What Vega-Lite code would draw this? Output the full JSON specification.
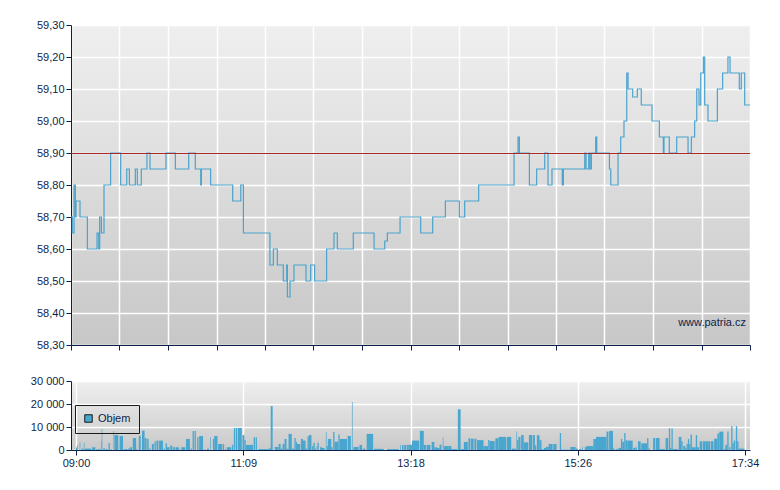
{
  "$schema": "https://vega.github.io/schema/vega-lite/v6.json",
  "background": "white",
  "padding": {"left": 30, "top": 19, "right": 10, "bottom": 5},
  "spacing": 36,
  "bounds": "flush",
  "config": {
    "font": "Liberation Sans",
    "view": {"stroke": null},
    "axis": {
      "labelFont": "Liberation Sans",
      "labelFontSize": 11,
      "labelColor": "#0d1f4b",
      "labelOverlap": false,
      "labelFlush": false,
      "domainColor": "#0d1f4b",
      "domainWidth": 1,
      "tickColor": "#0d1f4b",
      "tickSize": 5,
      "labelPadding": 2,
      "gridColor": "#ffffff",
      "gridWidth": 1.5,
      "gridOpacity": 1,
      "title": null
    }
  },
  "datasets": {
    "price": [
      {"t":0,"p":58.70},{"t":1,"p":58.65},{"t":2.3,"p":58.80},{"t":3.3,"p":58.70},{"t":3.8,"p":58.75},{"t":6.8,"p":58.70},{"t":12.4,"p":58.60},{"t":19.7,"p":58.65},{"t":21,"p":58.60},{"t":21.7,"p":58.70},{"t":23,"p":58.65},{"t":25,"p":58.80},{"t":30,"p":58.90},{"t":37.6,"p":58.80},{"t":42.2,"p":58.85},{"t":44.2,"p":58.80},{"t":48.7,"p":58.85},{"t":50.2,"p":58.80},{"t":53.2,"p":58.85},{"t":57.5,"p":58.90},{"t":59.8,"p":58.85},{"t":71.9,"p":58.90},{"t":79,"p":58.85},{"t":89.1,"p":58.90},{"t":94.1,"p":58.85},{"t":98.2,"p":58.80},{"t":98.7,"p":58.85},{"t":105.7,"p":58.80},{"t":122.4,"p":58.75},{"t":128.5,"p":58.80},{"t":130.5,"p":58.65},{"t":150.6,"p":58.55},{"t":153.2,"p":58.60},{"t":156.2,"p":58.55},{"t":160.7,"p":58.50},{"t":163.3,"p":58.55},{"t":163.8,"p":58.45},{"t":165.8,"p":58.50},{"t":168.8,"p":58.55},{"t":177.9,"p":58.50},{"t":181.4,"p":58.55},{"t":184.4,"p":58.50},{"t":193.5,"p":58.60},{"t":199.1,"p":58.65},{"t":201.6,"p":58.60},{"t":213.7,"p":58.65},{"t":229.4,"p":58.60},{"t":237.5,"p":58.625},{"t":239.5,"p":58.65},{"t":249.1,"p":58.70},{"t":264.7,"p":58.65},{"t":273.8,"p":58.70},{"t":283.4,"p":58.75},{"t":294,"p":58.70},{"t":298,"p":58.75},{"t":308.6,"p":58.80},{"t":335.4,"p":58.90},{"t":338.4,"p":58.95},{"t":339.4,"p":58.90},{"t":347,"p":58.80},{"t":352.5,"p":58.85},{"t":358.6,"p":58.90},{"t":361.1,"p":58.80},{"t":364.1,"p":58.85},{"t":371.9,"p":58.80},{"t":372.7,"p":58.85},{"t":388.9,"p":58.90},{"t":389.9,"p":58.85},{"t":391.9,"p":58.90},{"t":392.9,"p":58.85},{"t":393.9,"p":58.90},{"t":397.2,"p":58.95},{"t":398,"p":58.90},{"t":407.6,"p":58.85},{"t":408.6,"p":58.80},{"t":414.1,"p":58.90},{"t":416.1,"p":58.95},{"t":418.6,"p":59.00},{"t":420.7,"p":59.15},{"t":421.7,"p":59.10},{"t":425.2,"p":59.075},{"t":428.7,"p":59.10},{"t":431.7,"p":59.05},{"t":439.8,"p":59.00},{"t":445.4,"p":58.95},{"t":448.4,"p":58.90},{"t":448.9,"p":58.95},{"t":452.9,"p":58.90},{"t":458.5,"p":58.95},{"t":467.1,"p":58.90},{"t":469.6,"p":58.95},{"t":472.1,"p":59.00},{"t":473.7,"p":59.10},{"t":475.4,"p":59.05},{"t":476.7,"p":59.15},{"t":478.7,"p":59.20},{"t":479.7,"p":59.05},{"t":482.2,"p":59.00},{"t":489.3,"p":59.10},{"t":493.3,"p":59.15},{"t":497.3,"p":59.20},{"t":498.9,"p":59.15},{"t":505.9,"p":59.10},{"t":507.4,"p":59.15},{"t":510,"p":59.05},{"t":514,"p":59.05}
    ],
    "vol": [
      {"t":0.0,"t2":0.8,"v":1100},{"t":1.0,"t2":1.5,"v":2200},{"t":2.8,"t2":3.3,"v":3500},{"t":4.3,"t2":5.8,"v":600},{"t":6.0,"t2":6.5,"v":3200},{"t":6.8,"t2":11.8,"v":600},{"t":12.4,"t2":14.9,"v":1200},{"t":15.4,"t2":19.2,"v":300},{"t":19.2,"t2":19.7,"v":3900},{"t":19.7,"t2":20.2,"v":9100},{"t":20.9,"t2":22.4,"v":700},{"t":22.9,"t2":24.5,"v":400},{"t":25.0,"t2":26.0,"v":3000},{"t":26.5,"t2":27.5,"v":300},{"t":28.8,"t2":29.3,"v":8300},{"t":29.5,"t2":32.5,"v":6500},{"t":33.5,"t2":36.1,"v":6100},{"t":36.6,"t2":39.6,"v":400},{"t":40.1,"t2":41.6,"v":600},{"t":41.6,"t2":43.1,"v":1200},{"t":43.6,"t2":46.2,"v":5200},{"t":46.4,"t2":47.2,"v":400},{"t":48.2,"t2":49.7,"v":6200},{"t":50.7,"t2":52.7,"v":8400},{"t":52.7,"t2":54.2,"v":5200},{"t":54.7,"t2":55.8,"v":4900},{"t":56.3,"t2":57.3,"v":600},{"t":58.3,"t2":59.8,"v":2600},{"t":60.3,"t2":61.3,"v":3800},{"t":61.8,"t2":63.3,"v":4100},{"t":63.8,"t2":66.8,"v":4100},{"t":67.4,"t2":68.4,"v":600},{"t":68.9,"t2":69.9,"v":2900},{"t":69.9,"t2":71.9,"v":1200},{"t":72.4,"t2":73.9,"v":1900},{"t":74.4,"t2":75.9,"v":1200},{"t":76.4,"t2":78.9,"v":1200},{"t":79.5,"t2":80.0,"v":600},{"t":81.0,"t2":84.0,"v":1200},{"t":84.5,"t2":87.5,"v":4800},{"t":88.0,"t2":89.0,"v":600},{"t":89.6,"t2":90.6,"v":8300},{"t":91.1,"t2":92.1,"v":8300},{"t":93.1,"t2":94.1,"v":5500},{"t":94.6,"t2":97.6,"v":6100},{"t":98.6,"t2":99.6,"v":300},{"t":100.7,"t2":102.2,"v":600},{"t":103.2,"t2":103.7,"v":5500},{"t":105.2,"t2":106.2,"v":4800},{"t":106.2,"t2":108.7,"v":6100},{"t":109.2,"t2":112.3,"v":2600},{"t":112.8,"t2":113.8,"v":2500},{"t":114.3,"t2":115.3,"v":300},{"t":115.8,"t2":119.3,"v":1200},{"t":119.8,"t2":120.8,"v":2300},{"t":121.3,"t2":122.4,"v":9600},{"t":122.9,"t2":123.9,"v":9600},{"t":124.4,"t2":127.4,"v":9600},{"t":127.9,"t2":129.4,"v":6500},{"t":129.4,"t2":130.4,"v":4300},{"t":130.4,"t2":136.0,"v":2200},{"t":136.5,"t2":137.5,"v":5500},{"t":138.0,"t2":139.0,"v":5500},{"t":140.0,"t2":142.1,"v":400},
      {"t":142.1,"t2":148.6,"v":400},{"t":148.6,"t2":149.6,"v":900},{"t":149.6,"t2":151.1,"v":19100},{"t":152.7,"t2":155.7,"v":1300},{"t":155.7,"t2":157.2,"v":2600},{"t":157.2,"t2":158.7,"v":600},{"t":158.7,"t2":160.2,"v":2600},{"t":160.2,"t2":161.7,"v":4800},{"t":161.7,"t2":163.3,"v":600},{"t":163.3,"t2":165.8,"v":7000},{"t":165.8,"t2":167.8,"v":600},{"t":167.8,"t2":168.8,"v":5200},{"t":168.8,"t2":169.8,"v":3500},{"t":169.8,"t2":172.3,"v":2600},{"t":172.8,"t2":174.4,"v":4800},{"t":174.4,"t2":176.4,"v":4100},{"t":176.4,"t2":177.9,"v":600},{"t":177.9,"t2":178.9,"v":5900},{"t":178.9,"t2":180.9,"v":6500},{"t":181.4,"t2":182.4,"v":1700},{"t":182.4,"t2":183.4,"v":3200},{"t":183.4,"t2":184.4,"v":600},{"t":184.9,"t2":185.5,"v":1700},{"t":185.5,"t2":186.5,"v":3200},{"t":187.5,"t2":189.0,"v":1200},{"t":189.0,"t2":191.0,"v":900},{"t":192.0,"t2":192.5,"v":7800},{"t":192.5,"t2":193.5,"v":1700},{"t":193.5,"t2":196.1,"v":4800},{"t":196.1,"t2":197.1,"v":1200},{"t":197.6,"t2":198.6,"v":7800},{"t":198.6,"t2":201.6,"v":3600},{"t":201.6,"t2":202.6,"v":6700},{"t":202.6,"t2":203.6,"v":4800},{"t":203.6,"t2":208.2,"v":4800},{"t":208.7,"t2":211.2,"v":6100},{"t":212.0,"t2":212.5,"v":20900},{"t":213.2,"t2":217.2,"v":1300},{"t":217.8,"t2":219.8,"v":2200},{"t":220.3,"t2":222.3,"v":600},{"t":223.3,"t2":228.3,"v":7000},{"t":228.9,"t2":236.4,"v":500},{"t":239.0,"t2":248.0,"v":400},{"t":249.0,"t2":249.5,"v":2200},{"t":250.5,"t2":251.6,"v":2200},{"t":252.1,"t2":253.6,"v":2200},{"t":254.1,"t2":255.6,"v":2200},{"t":255.6,"t2":258.1,"v":2300},{"t":258.1,"t2":263.7,"v":4100},{"t":264.2,"t2":267.2,"v":8300},{"t":267.2,"t2":269.2,"v":2200},{"t":269.7,"t2":272.3,"v":2200},{"t":273.3,"t2":275.3,"v":3500},{"t":275.3,"t2":277.3,"v":1200},{"t":277.3,"t2":279.3,"v":900},{"t":279.3,"t2":280.8,"v":2300},{"t":281.8,"t2":282.3,"v":5400},{"t":282.3,"t2":283.3,"v":1700},{"t":283.3,"t2":285.9,"v":1700},{"t":285.9,"t2":288.4,"v":1700},{"t":288.4,"t2":292.9,"v":400},{"t":293.4,"t2":295.5,"v":17700},{"t":295.5,"t2":298.0,"v":400},{"t":298.0,"t2":301.0,"v":3500},{"t":301.5,"t2":303.0,"v":5100},{"t":303.5,"t2":305.5,"v":4900},{"t":306.1,"t2":307.6,"v":4900},{"t":308.1,"t2":313.1,"v":4300},{"t":313.1,"t2":316.7,"v":1700},{"t":316.7,"t2":317.7,"v":4300},{"t":317.7,"t2":321.7,"v":3900},{"t":322.2,"t2":324.7,"v":5100},{"t":324.7,"t2":330.4,"v":5700},
      {"t":330.9,"t2":334.4,"v":5700},{"t":334.9,"t2":337.9,"v":600},{"t":338.4,"t2":338.9,"v":8000},{"t":338.9,"t2":339.9,"v":4300},{"t":339.9,"t2":341.5,"v":5700},{"t":342.0,"t2":344.0,"v":6500},{"t":344.0,"t2":347.5,"v":3300},{"t":348.0,"t2":350.5,"v":6500},{"t":351.0,"t2":352.6,"v":6500},{"t":352.6,"t2":353.6,"v":2000},{"t":354.1,"t2":356.1,"v":6400},{"t":356.1,"t2":357.6,"v":4300},{"t":357.6,"t2":359.1,"v":400},{"t":359.6,"t2":361.1,"v":900},{"t":361.1,"t2":363.2,"v":1400},{"t":363.2,"t2":366.2,"v":2600},{"t":366.7,"t2":369.2,"v":2600},{"t":371.7,"t2":372.7,"v":7400},{"t":372.7,"t2":379.8,"v":150},{"t":379.8,"t2":383.8,"v":1300},{"t":383.8,"t2":385.4,"v":600},{"t":386.4,"t2":388.4,"v":400},{"t":388.9,"t2":389.4,"v":1200},{"t":390.9,"t2":391.9,"v":1200},{"t":391.9,"t2":397.5,"v":1700},{"t":397.5,"t2":399.5,"v":4800},{"t":399.5,"t2":407.6,"v":5700},{"t":407.6,"t2":409.1,"v":8000},{"t":409.6,"t2":412.6,"v":8300},{"t":412.6,"t2":413.6,"v":600},{"t":414.6,"t2":416.1,"v":400},{"t":416.6,"t2":418.7,"v":900},{"t":418.7,"t2":419.7,"v":4800},{"t":419.7,"t2":421.2,"v":3500},{"t":421.2,"t2":422.2,"v":7400},{"t":422.2,"t2":423.7,"v":4200},{"t":423.7,"t2":427.7,"v":4100},{"t":428.2,"t2":429.8,"v":900},{"t":429.8,"t2":430.8,"v":1200},{"t":431.8,"t2":433.8,"v":3800},{"t":433.8,"t2":434.3,"v":900},{"t":434.3,"t2":438.8,"v":2900},{"t":438.8,"t2":439.8,"v":5200},{"t":439.8,"t2":440.9,"v":600},{"t":443.4,"t2":444.9,"v":5200},{"t":445.4,"t2":448.4,"v":5200},{"t":448.4,"t2":452.5,"v":400},{"t":453.0,"t2":455.0,"v":5200},{"t":455.5,"t2":456.5,"v":9400},{"t":456.5,"t2":457.5,"v":900},{"t":457.5,"t2":458.5,"v":9400},{"t":458.5,"t2":462.6,"v":400},{"t":463.1,"t2":465.1,"v":5700},{"t":465.1,"t2":466.1,"v":3800},{"t":466.6,"t2":468.1,"v":1700},{"t":468.1,"t2":469.1,"v":900},{"t":469.1,"t2":470.1,"v":2600},{"t":470.1,"t2":471.1,"v":4800},{"t":471.1,"t2":472.1,"v":2600},{"t":472.1,"t2":473.2,"v":6700},{"t":473.2,"t2":476.2,"v":1200},{"t":476.2,"t2":477.2,"v":6500},{"t":477.2,"t2":478.7,"v":1200},{"t":479.2,"t2":481.2,"v":3800},{"t":481.7,"t2":483.7,"v":3800},{"t":483.7,"t2":486.2,"v":3800},{"t":486.2,"t2":487.2,"v":3800},{"t":487.7,"t2":489.8,"v":3800},{"t":490.3,"t2":492.8,"v":4900},{"t":492.8,"t2":494.3,"v":7200},{"t":494.3,"t2":497.4,"v":8000},{"t":497.9,"t2":498.9,"v":400},{"t":498.9,"t2":500.4,"v":2200},{"t":500.4,"t2":501.4,"v":8000},{"t":501.9,"t2":502.9,"v":1200},{"t":503.4,"t2":504.4,"v":10300},{"t":504.4,"t2":505.4,"v":2900},{"t":505.4,"t2":506.5,"v":4100},{"t":507.0,"t2":508.0,"v":10300},{"t":508.0,"t2":509.0,"v":3800},{"t":509.0,"t2":513.5,"v":600}
    ]
  },
  "vconcat": [
    {
      "width": 679,
      "height": 320,
      "view": {"stroke": null, "fill": {"gradient": "linear", "x1": 0, "y1": 0, "x2": 0, "y2": 1, "stops": [{"offset": 0, "color": "#efefef"}, {"offset": 1, "color": "#c7c7c7"}]}},
      "layer": [
        {
          "data": {"name": "price"},
          "mark": {"type": "line", "interpolate": "step-after", "color": "#4ba3cc", "strokeWidth": 1.2},
          "encoding": {
            "x": {"field": "t", "type": "quantitative",
                  "scale": {"domain": [0, 514], "nice": false, "zero": false},
                  "axis": {"values": [0, 36.714, 73.429, 110.143, 146.857, 183.571, 220.286, 257, 293.714, 330.429, 367.143, 403.857, 440.571, 477.286, 514], "tickCount": 40, "labels": false, "grid": true}},
            "y": {"field": "p", "type": "quantitative",
                  "scale": {"domain": [58.3, 59.3], "nice": false, "zero": false},
                  "axis": {"values": [58.3, 58.4, 58.5, 58.6, 58.7, 58.8, 58.9, 59.0, 59.1, 59.2, 59.3], "tickCount": 40, "labelOverlap": false, "labelFlush": false, "labelExpr": "replace(format(datum.value, '.2f'), '.', ',')", "grid": true}}
          }
        },
        {
          "data": {"values": [{}]},
          "mark": {"type": "rule", "color": "#a82828", "strokeWidth": 1, "yOffset": 0.5},
          "encoding": {"y": {"datum": 58.9}}
        },
        {
          "data": {"values": [{}]},
          "mark": {"type": "text", "align": "right", "baseline": "middle", "color": "#0d1f4b", "fontSize": 11, "font": "Liberation Sans"},
          "encoding": {"x": {"datum": 511}, "y": {"datum": 58.37}, "text": {"value": "www.patria.cz"}}
        }
      ]
    },
    {
      "width": 679,
      "height": 69,
      "view": {"stroke": null, "fill": {"gradient": "linear", "x1": 0, "y1": 0, "x2": 0, "y2": 1, "stops": [{"offset": 0, "color": "#efefef"}, {"offset": 1, "color": "#c9c9c9"}]}},
      "data": {"name": "vol"},
      "mark": {"type": "bar", "orient": "vertical"},
      "encoding": {
        "x": {"field": "t", "type": "quantitative",
              "scale": {"domain": [0, 514], "nice": false, "zero": false},
              "axis": {"values": [0, 128.5, 257, 385.5, 514], "tickCount": 40, "grid": true, "labelFlush": false, "labelOverlap": false,
                       "labelExpr": "datum.value == 0 ? '09:00' : datum.value < 200 ? '11:09' : datum.value < 300 ? '13:18' : datum.value < 400 ? '15:26' : '17:34'"}},
        "x2": {"field": "t2"},
        "y": {"field": "v", "type": "quantitative",
              "scale": {"domain": [0, 30000], "nice": false},
              "axis": {"values": [0, 10000, 20000, 30000], "tickCount": 40, "grid": true, "labelFlush": false, "labelOverlap": false, "labelExpr": "replace(format(datum.value, ','), ',', ' ')"}},
        "y2": {"datum": 0},
        "color": {"datum": "Objem", "type": "nominal",
                  "scale": {"range": ["#49a7cf"]},
                  "legend": {"orient": "none", "legendX": 4, "legendY": 380, "title": null,
                             "symbolType": "square", "symbolSize": 56, "symbolStrokeColor": "#1a1a1a", "symbolStrokeWidth": 1,
                             "strokeColor": "#1a1a1a", "padding": 8, "labelFontSize": 11, "labelFont": "Liberation Sans",
                             "labelColor": "#0d1f4b", "labelOffset": 4}}
      }
    }
  ]
}
